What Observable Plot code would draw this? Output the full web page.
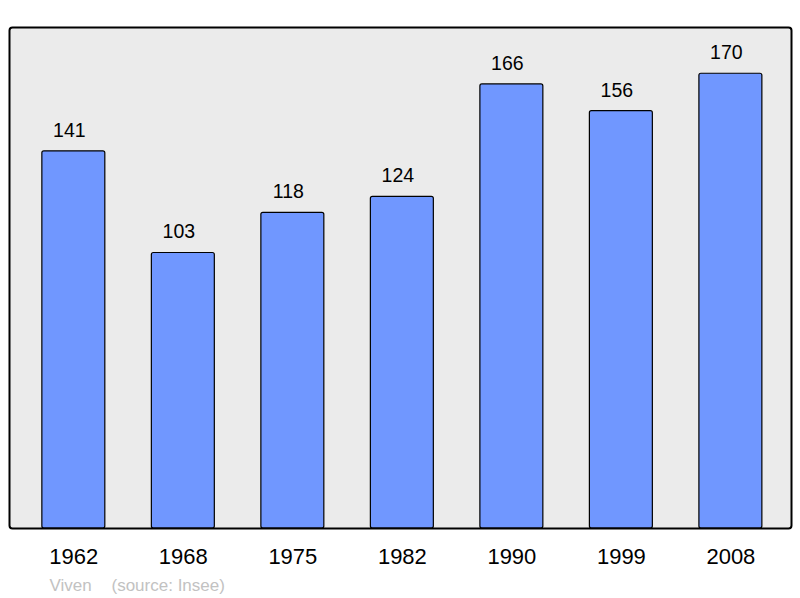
<!DOCTYPE html>
<html>
<head>
<meta charset="utf-8">
<script src="https://cdn.jsdelivr.net/npm/d3@7"></script>
<script src="https://cdn.jsdelivr.net/npm/@observablehq/plot@0.6"></script>
<style>
  html, body { margin: 0; padding: 0; background: #ffffff; }
  svg { display: block; }
</style>
</head>
<body>
<div id="chart"></div>
<script>
const years = ["1962", "1968", "1975", "1982", "1990", "1999", "2008"];
const population = [141, 103, 118, 124, 166, 156, 170];
const author = "Viven";
const source = "(source: Insee)";

const data = years.map((y, i) => ({year: y, value: population[i]}));

const chart = Plot.plot({
  width: 800,
  height: 598,
  marginLeft: 9,
  marginRight: 9,
  marginTop: 27,
  marginBottom: 70,
  style: {fontFamily: "'Liberation Sans', Arial, sans-serif", background: "#ffffff", color: "#000"},
  x: {domain: years, paddingInner: 0.425, paddingOuter: 0.283, align: 0.53, round: false, label: null},
  y: {domain: [0, 187.3], axis: null},
  marks: [
    Plot.frame({fill: "#ebebeb", stroke: "none", rx: 3}),
    Plot.barY(data, {x: "year", y: "value", fill: "#7097ff", stroke: "#000", strokeWidth: 1.2, rx: 2}),
    Plot.frame({stroke: "#000", strokeWidth: 2, rx: 3}),
    Plot.text(data, {x: "year", y: "value", text: d => String(d.value), lineAnchor: "bottom", dx: -4.5, dy: -14.5, fontSize: 19.5, fill: "#000"}),
    Plot.axisX({tickSize: 0, tickPadding: 20, fontSize: 22, label: null, color: "#000"}),
    Plot.text([author], {frameAnchor: "bottom-left", text: d => d, dx: 40, dy: 62, lineAnchor: "bottom", textAnchor: "start", fontSize: 17, fill: "#c2c2c2"}),
    Plot.text([source], {frameAnchor: "bottom-left", text: d => d, dx: 102, dy: 62, lineAnchor: "bottom", textAnchor: "start", fontSize: 17, fill: "#c2c2c2"})
  ]
});
document.getElementById("chart").appendChild(chart);
</script>
</body>
</html>
